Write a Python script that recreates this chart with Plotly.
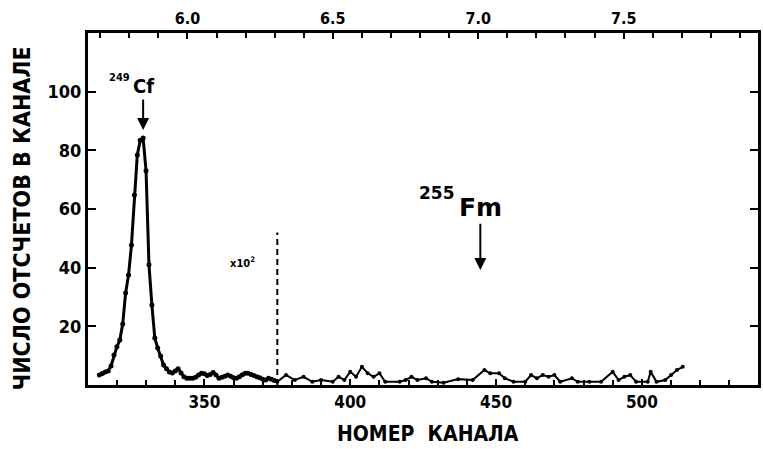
import plotly.graph_objects as go

# ---- data ----
# left part: 249Cf peak and background (channels 314..374)
main_channels = list(range(314, 375))
main_counts = [3.4, 3.9, 4.4, 4.8, 6.5, 10.2, 13.0, 15.3, 20.8, 31.4,
               37.5, 47.7, 64.8, 78.4, 83.4, 84.2, 73.0, 41.0, 27.3, 16.0,
               12.6, 9.9, 6.8, 5.5, 4.4, 4.1, 4.8, 5.5, 4.1,
               2.8, 2.3, 2.3, 2.3, 2.6, 3.4, 4.0, 3.8, 3.2, 3.6,
               4.3, 3.4, 2.3, 2.6, 3.0, 3.4, 3.0, 2.5, 2.3, 2.8,
               3.5, 4.0, 4.0, 3.6, 3.2, 2.8, 2.5, 2.0, 1.7, 2.3,
               2.0, 1.5]

# right part, counts scaled x10^2
scaled_channels = [375, 378, 381, 384, 387, 390, 394, 396, 398, 400,
                   402, 404, 406, 408, 410, 412, 417, 419, 421, 423,
                   426, 428, 432, 437, 442, 446, 448, 451, 453, 456,
                   460, 462, 464, 466, 468, 470, 472, 476, 478, 482,
                   486, 490, 492, 494, 496, 498, 502, 503, 505, 508,
                   510, 512, 514]
scaled_counts = [1.1, 3.4, 1.7, 2.8, 1.1, 1.7, 1.1, 2.8, 1.7, 4.5,
                 2.8, 6.2, 4.0, 2.8, 4.0, 1.1, 1.1, 1.7, 2.8, 1.7,
                 2.3, 1.1, 0.8, 2.0, 1.7, 5.1, 4.0, 4.0, 2.3, 1.1,
                 1.1, 3.4, 2.3, 3.4, 2.8, 3.4, 1.1, 2.3, 1.1, 1.1,
                 1.1, 4.5, 1.7, 2.8, 3.4, 1.1, 1.1, 4.5, 1.1, 1.7,
                 3.4, 5.1, 6.2]

divider_channel = [375, 375]
divider_counts = [0, 52]

x_range = [310.1, 539.8]
energy_range = [5.658, 7.962]
y_range = [0, 120]
y_ticks = [20, 40, 60, 80, 100]
x_ticks = [350, 400, 450, 500]
energy_ticks = [6.0, 6.5, 7.0, 7.5]
energy_labels = ["6.0", "6.5", "7.0", "7.5"]

cf_label = dict(ch=329.0, text_y=101.9, tip=86.9)
fm_label = dict(ch=444.6, text_y=60.4, tip=39.2)

FONT = "DejaVu Sans Condensed, DejaVu Sans, sans-serif"

fig = go.Figure()
fig.add_trace(go.Scatter(x=main_channels, y=main_counts, mode="lines+markers",
                         line=dict(color="black", width=3),
                         marker=dict(color="black", size=5),
                         hoverinfo="skip", showlegend=False))
fig.add_trace(go.Scatter(x=scaled_channels, y=scaled_counts, mode="lines+markers",
                         line=dict(color="black", width=2),
                         marker=dict(color="black", size=4),
                         hoverinfo="skip", showlegend=False))
fig.add_trace(go.Scatter(x=divider_channel, y=divider_counts, mode="lines",
                         line=dict(color="black", width=2, dash="6px,4px"),
                         hoverinfo="skip", showlegend=False))
# invisible trace for the energy axis
fig.add_trace(go.Scatter(x=energy_ticks, y=[None] * len(energy_ticks), xaxis="x2",
                         mode="markers", marker=dict(opacity=0),
                         hoverinfo="skip", showlegend=False))

fig.update_layout(
    width=763, height=449,
    margin=dict(l=88, r=2, t=33, b=64),
    paper_bgcolor="white", plot_bgcolor="white",
    font=dict(family=FONT, color="black", weight="bold"),
    xaxis=dict(range=x_range, tickvals=x_ticks, ticks="inside", ticklen=6,
               tickwidth=2, tickcolor="black",
               minor=dict(dtick=10, ticks="inside", ticklen=5, tickwidth=2,
                          tickcolor="black", showgrid=False),
               showline=True, linewidth=3, linecolor="black",
               showgrid=False, zeroline=False,
               tickfont=dict(family=FONT, size=17, weight="bold")),
    xaxis2=dict(range=energy_range, overlaying="x", side="top",
                tickvals=energy_ticks, ticktext=energy_labels,
                ticks="inside", ticklen=6, tickwidth=2, tickcolor="black",
                minor=dict(dtick=0.1, tick0=0, ticks="inside", ticklen=5,
                           tickwidth=2, tickcolor="black", showgrid=False),
                showline=True, linewidth=3, linecolor="black",
                showgrid=False, zeroline=False,
                tickfont=dict(family=FONT, size=16, weight="bold")),
    yaxis=dict(range=y_range, tickvals=y_ticks, ticks="inside", ticklen=8,
               tickwidth=2, tickcolor="black", mirror="ticks",
               showline=True, linewidth=3, linecolor="black",
               showgrid=False, zeroline=False,
               tickfont=dict(family=FONT, size=18, weight="bold")),
)

ann = []
ann.append(dict(x=-0.098, y=0.474, xref="paper", yref="paper",
                xanchor="center", yanchor="middle",
                text="ЧИСЛО ОТСЧЕТОВ В КАНАЛЕ", textangle=-90, showarrow=False,
                font=dict(family=FONT, size=23, weight="bold")))
ann.append(dict(x=0.507, y=-0.139, xref="paper", yref="paper",
                xanchor="center", yanchor="middle",
                text="НОМЕР  КАНАЛА", showarrow=False,
                font=dict(family=FONT, size=21, weight="bold")))
# labels with arrows
ann.append(dict(x=cf_label["ch"], y=cf_label["tip"], ax=cf_label["ch"],
                ay=cf_label["text_y"], xref="x", yref="y", axref="x", ayref="y",
                text="Cf", showarrow=True, arrowhead=2, arrowsize=1.2,
                arrowwidth=2, arrowcolor="black", standoff=0,
                font=dict(family=FONT, size=20, weight="bold")))
ann.append(dict(x=fm_label["ch"], y=fm_label["tip"], ax=fm_label["ch"],
                ay=fm_label["text_y"], xref="x", yref="y", axref="x", ayref="y",
                text="Fm", showarrow=True, arrowhead=2, arrowsize=1.2,
                arrowwidth=2, arrowcolor="black", standoff=0,
                font=dict(family="DejaVu Sans, sans-serif", size=25, weight="bold")))
ann.append(dict(x=320.9, y=104.7, xref="x", yref="y", text="249", showarrow=False,
                font=dict(family=FONT, size=11, weight="bold")))
ann.append(dict(x=429.9, y=65.3, xref="x", yref="y", text="255", showarrow=False,
                font=dict(family="DejaVu Sans, sans-serif", size=17, weight="bold")))
ann.append(dict(x=363, y=41.6, xref="x", yref="y", text="x10<sup>2</sup>",
                showarrow=False, font=dict(family=FONT, size=11, weight="bold")))
fig.update_layout(annotations=ann)

fig.write_html("out.html")
